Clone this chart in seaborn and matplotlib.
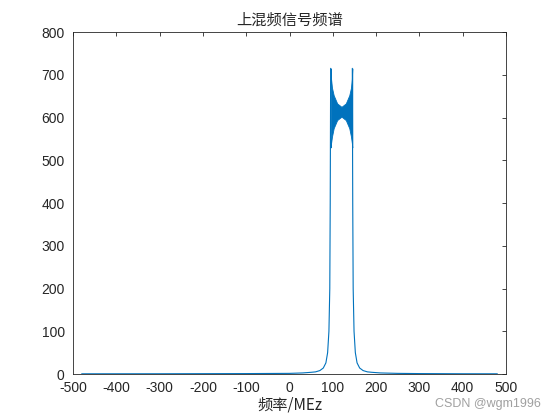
"""上混频信号频谱"""
import matplotlib
matplotlib.use("Agg")
import matplotlib.pyplot as plt
import seaborn as sns

# left skirt of the spectrum (MHz, magnitude)
left_freq = [-480, -300, -200, -100, 0, 30, 50, 60, 70, 78, 84, 88, 91, 93, 94, 95]
left_mag = [0.5, 0.6, 0.8, 1.0, 1.5, 2.5, 4, 5, 8, 14, 26, 50, 100, 200, 400, 715]

# right skirt
right_freq = [145, 146, 147, 149, 152, 156, 162, 170, 180, 190, 210, 250, 300, 400, 480]
right_mag = [715, 400, 200, 100, 50, 26, 14, 8, 5, 4, 2.5, 1.5, 1.0, 0.6, 0.5]

# passband ripple envelope
band_freq = [95, 96, 98, 102, 110, 120, 130, 138, 142, 144, 145]
band_upper = [715, 690, 670, 652, 633, 625, 633, 652, 670, 690, 715]
band_lower = [530, 540, 555, 575, 594, 602, 594, 575, 555, 540, 530]

xticks = list(range(-500, 501, 100))
yticks = list(range(0, 801, 100))

blue = "#0072BD"
dark = "#262626"

sns.set_style("white")
plt.rcParams["font.family"] = ["Liberation Sans", "Noto Sans CJK SC", "DejaVu Sans"]
plt.rcParams["axes.unicode_minus"] = False

fig = plt.figure(figsize=(5.6, 4.2), dpi=100)
ax = fig.add_axes([0.1304, 0.1095, 0.7732, 0.8143])

sns.lineplot(x=left_freq, y=left_mag, color=blue, linewidth=0.8,
             estimator=None, sort=False, ax=ax)
sns.lineplot(x=right_freq, y=right_mag, color=blue, linewidth=0.8,
             estimator=None, sort=False, ax=ax)
ax.fill_between(band_freq, band_lower, band_upper, color=blue, linewidth=0.6)

ax.set_xlim(-500, 500)
ax.set_ylim(0, 800)
ax.set_xticks(xticks)
ax.set_yticks(yticks)
ax.tick_params(direction="in", length=3, width=0.6, colors=dark,
               labelsize=10, top=True, right=True)
ax.tick_params(axis="x", pad=5)
ax.tick_params(axis="y", pad=6)
for s in ax.spines.values():
    s.set_color(dark)
    s.set_linewidth(0.6)

ax.set_title("上混频信号频谱", fontsize=11, color=dark,
             family=["Noto Sans CJK SC", "DejaVu Sans"], pad=5)
ax.set_xlabel("频率/MEz", fontsize=11, color=dark,
              family=["Noto Sans CJK SC", "DejaVu Sans"], labelpad=1)
fig.text(0.965, 0.025, "CSDN @wgm1996", color="#a0a0a0", fontsize=9,
         ha="right", va="bottom")

fig.savefig("out.png", dpi=100)
